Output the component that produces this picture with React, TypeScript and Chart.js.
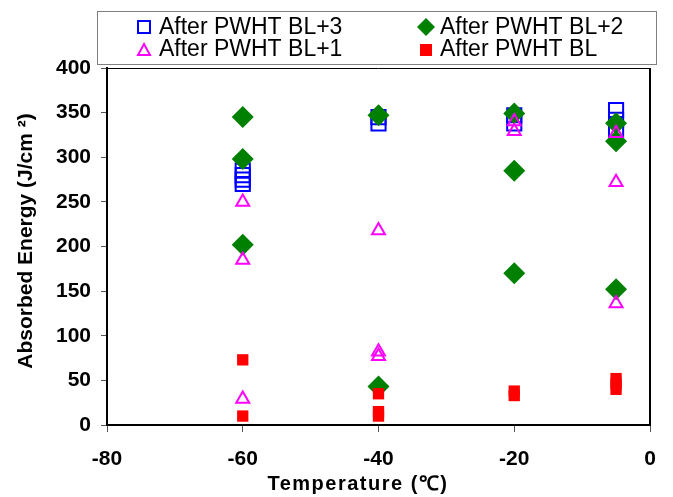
import React, { useEffect, useRef } from 'react';
import { Chart, registerables } from 'chart.js';

Chart.register(...registerables);

const seriesLabels = ['After PWHT BL+3', 'After PWHT BL+2', 'After PWHT BL+1', 'After PWHT BL'];

const tempBL3 = [-60, -60, -60, -60, -40, -40, -20, -20, -5, -5, -5];
const energyBL3 = [285, 280, 275, 270, 345, 338, 347, 338, 353, 342, 331];

const tempBL2 = [-60, -60, -60, -40, -40, -20, -20, -20, -5, -5, -5];
const energyBL2 = [345, 298, 202, 347, 43, 349, 285, 170, 338, 318, 152];

const tempBL1 = [-60, -60, -60, -40, -40, -40, -20, -20, -5, -5, -5];
const energyBL1 = [250, 185, 29, 218, 82, 77, 340, 329, 327, 272, 136];

const tempBL = [-60, -60, -40, -40, -40, -20, -20, -5, -5, -5];
const energyBL = [73, 10, 35, 15, 10, 38, 33, 52, 46, 40];

const xTicks = [-80, -60, -40, -20, 0];
const yTicks = [0, 50, 100, 150, 200, 250, 300, 350, 400];

const xTitle = 'Temperature (\u2103)';
const yTitle = 'Absorbed Energy (J/cm \u00B2)';

const FONT = 'Liberation Sans, Arial, sans-serif';

const toPoints = (xs: number[], ys: number[]) => xs.map((x, i) => ({ x, y: ys[i] }));

const overlayPlugin = {
  id: 'overlay',
  afterDraw(chart: any) {
    const ctx = chart.ctx as CanvasRenderingContext2D;
    const a = chart.chartArea;
    ctx.save();
    // plot border top/right
    ctx.strokeStyle = '#000';
    ctx.lineWidth = 1;
    ctx.beginPath();
    ctx.moveTo(a.left, a.top + 0.5);
    ctx.lineTo(a.right, a.top + 0.5);
    ctx.stroke();
    ctx.lineWidth = 2;
    ctx.beginPath();
    ctx.moveTo(a.right, a.top);
    ctx.lineTo(a.right, a.bottom);
    ctx.stroke();

    // legend box
    ctx.fillStyle = '#fff';
    ctx.fillRect(97, 11, 559, 54);
    ctx.strokeStyle = '#808080';
    ctx.lineWidth = 1;
    ctx.strokeRect(97.5, 11.5, 559, 53);

    const rows = [
      { label: seriesLabels[0], mx: 144, tx: 159, y: 27, kind: 'square' },
      { label: seriesLabels[1], mx: 426, tx: 440, y: 27, kind: 'diamond' },
      { label: seriesLabels[2], mx: 144, tx: 159, y: 49, kind: 'triangle' },
      { label: seriesLabels[3], mx: 426, tx: 440, y: 49, kind: 'red' },
    ];
    ctx.font = `23px ${FONT}`;
    ctx.textBaseline = 'middle';
    ctx.textAlign = 'left';
    for (const r of rows) {
      ctx.fillStyle = '#000';
      ctx.fillText(r.label, r.tx, r.y + 1);
      if (r.kind === 'square') {
        ctx.strokeStyle = '#0000FF';
        ctx.lineWidth = 2;
        ctx.strokeRect(r.mx - 6, r.y - 6, 12, 12);
      } else if (r.kind === 'diamond') {
        ctx.fillStyle = '#008000';
        ctx.beginPath();
        ctx.moveTo(r.mx, r.y - 9);
        ctx.lineTo(r.mx + 9, r.y);
        ctx.lineTo(r.mx, r.y + 9);
        ctx.lineTo(r.mx - 9, r.y);
        ctx.closePath();
        ctx.fill();
      } else if (r.kind === 'triangle') {
        ctx.strokeStyle = '#FF00FF';
        ctx.lineWidth = 2;
        ctx.beginPath();
        ctx.moveTo(r.mx, r.y - 5);
        ctx.lineTo(r.mx + 6, r.y + 6);
        ctx.lineTo(r.mx - 6, r.y + 6);
        ctx.closePath();
        ctx.stroke();
      } else {
        ctx.fillStyle = '#FF0000';
        ctx.fillRect(r.mx - 6, r.y - 5, 12, 12);
      }
    }

    // axis titles
    ctx.fillStyle = '#000';
    ctx.font = `bold 20px ${FONT}`;
    ctx.textAlign = 'center';
    ctx.textBaseline = 'middle';
    (ctx as any).letterSpacing = '1.5px';
    ctx.fillText(xTitle, 358, 484);
    (ctx as any).letterSpacing = '0px';
    ctx.font = `bold 21px ${FONT}`;
    ctx.translate(26, 241);
    ctx.rotate(-Math.PI / 2);
    ctx.fillText(yTitle, 0, 0);
    ctx.restore();
  },
};

export default function App() {
  const ref = useRef<HTMLCanvasElement | null>(null);

  useEffect(() => {
    if (!ref.current) return;
    const chart = new Chart(ref.current, {
      type: 'scatter',
      data: {
        datasets: [
          {
            label: seriesLabels[0],
            data: toPoints(tempBL3, energyBL3),
            pointStyle: 'rect',
            pointRadius: 10,
            pointBorderColor: '#0000FF',
            pointBackgroundColor: 'rgba(255,255,255,0)',
            pointBorderWidth: 2,
            order: 3,
          },
          {
            label: seriesLabels[1],
            data: toPoints(tempBL2, energyBL2),
            pointStyle: 'rectRot',
            pointRadius: 11,
            pointBorderColor: '#008000',
            pointBackgroundColor: '#008000',
            pointBorderWidth: 0,
            order: 2,
          },
          {
            label: seriesLabels[2],
            data: toPoints(tempBL1, energyBL1),
            pointStyle: 'triangle',
            pointRadius: 7.5,
            pointBorderColor: '#FF00FF',
            pointBackgroundColor: 'rgba(255,255,255,0)',
            pointBorderWidth: 2,
            order: 1,
          },
          {
            label: seriesLabels[3],
            data: toPoints(tempBL, energyBL),
            pointStyle: 'rect',
            pointRadius: 8,
            pointBorderColor: '#FF0000',
            pointBackgroundColor: '#FF0000',
            pointBorderWidth: 0,
            order: 0,
          },
        ],
      },
      options: {
        animation: false,
        responsive: false,
        maintainAspectRatio: false,
        layout: { padding: { top: 68, right: 23, left: 0, bottom: 0 } },
        plugins: {
          legend: { display: false },
          tooltip: { enabled: false },
          title: { display: false },
        },
        scales: {
          x: {
            type: 'linear',
            min: xTicks[0],
            max: xTicks[xTicks.length - 1],
            afterBuildTicks: (s: any) => {
              s.ticks = xTicks.map((v) => ({ value: v }));
            },
            afterFit: (s: any) => {
              s.height = 72;
            },
            grid: {
              drawOnChartArea: false,
              drawTicks: true,
              tickLength: 7,
              tickColor: '#555',
              tickWidth: 1,
            },
            border: { display: true, color: '#000', width: 2 },
            ticks: {
              color: '#000',
              padding: 15,
              font: { family: FONT, size: 21, weight: 'bold' },
            },
          },
          y: {
            type: 'linear',
            min: yTicks[0],
            max: yTicks[yTicks.length - 1],
            afterBuildTicks: (s: any) => {
              s.ticks = yTicks.map((v) => ({ value: v }));
            },
            afterFit: (s: any) => {
              s.width = 107;
            },
            grid: {
              drawOnChartArea: false,
              drawTicks: true,
              tickLength: 6,
              tickColor: '#555',
              tickWidth: 1,
            },
            border: { display: true, color: '#000', width: 2 },
            ticks: {
              color: '#000',
              padding: 10,
              font: { family: FONT, size: 21, weight: 'bold' },
            },
          },
        },
      },
      plugins: [overlayPlugin],
    } as any);
    return () => chart.destroy();
  }, []);

  return (
    <div style={{ position: 'fixed', left: 0, top: 0, width: 673, height: 497, background: '#fff' }}>
      <canvas ref={ref} width={673} height={497} style={{ width: 673, height: 497, display: 'block' }} />
    </div>
  );
}
